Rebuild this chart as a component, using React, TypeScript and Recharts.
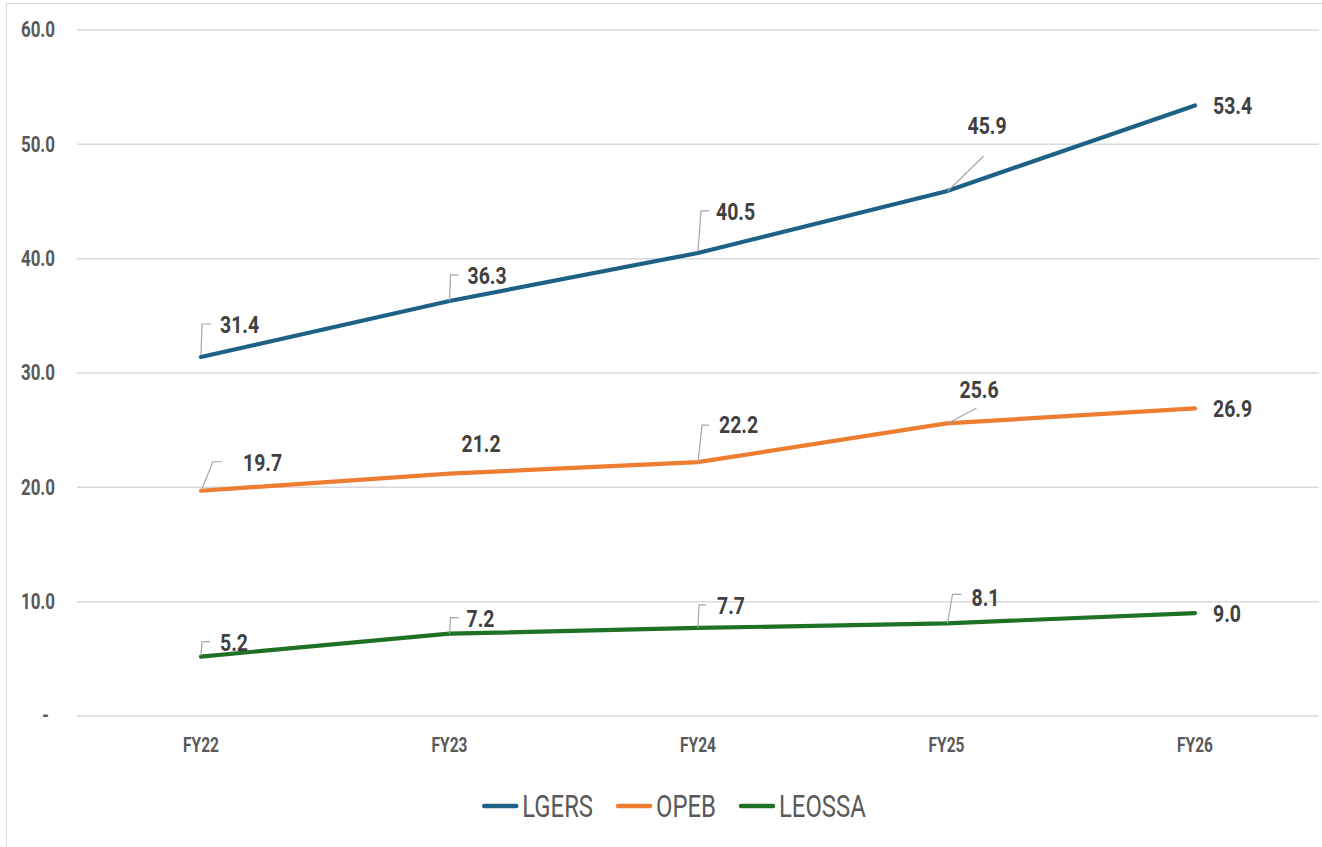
import React from 'react';
import { LineChart, Line, XAxis, YAxis, CartesianGrid, Legend } from 'recharts';

const categories = ['FY22', 'FY23', 'FY24', 'FY25', 'FY26'];
const lgers = [31.4, 36.3, 40.5, 45.9, 53.4];
const opeb = [19.7, 21.2, 22.2, 25.6, 26.9];
const leossa = [5.2, 7.2, 7.7, 8.1, 9.0];
const yTicks = [0, 10, 20, 30, 40, 50, 60];

const data = categories.map((fy, i) => ({
  fy,
  LGERS: lgers[i],
  OPEB: opeb[i],
  LEOSSA: leossa[i],
}));

const FONT = "Roboto, 'Liberation Sans', sans-serif";
const AXIS_GRAY = '#595959';
const LABEL_DARK = '#404040';
const LEADER = '#a6a6a6';

const series = [
  { key: 'LGERS', color: '#1d6187' },
  { key: 'OPEB', color: '#ed7d31' },
  { key: 'LEOSSA', color: '#1e7125' },
];

// horizontally condensed text, scaled about its anchor point
const NarrowText = ({
  x,
  y,
  anchor = 'start',
  sx = 0.8,
  size = 20,
  weight = 700,
  fill = AXIS_GRAY,
  children,
}: any) => (
  <text
    transform={`translate(${x} ${y}) scale(${sx} 1)`}
    x={0}
    y={0}
    textAnchor={anchor}
    dominantBaseline="central"
    fontFamily={FONT}
    fontWeight={weight}
    fontSize={size}
    fill={fill}
  >
    {children}
  </text>
);

type LabelPos = { dx: number; dy: number; leader?: [number, number][] };

// label placement relative to each point, with optional leader lines
const lgersLabels: LabelPos[] = [
  { dx: 19, dy: -32, leader: [[0, -2], [1, -33], [10, -33]] },
  { dx: 18, dy: -25, leader: [[0, 0], [1, -26], [9, -26]] },
  { dx: 18, dy: -41, leader: [[0, -2], [3, -42], [11, -42]] },
  { dx: 21, dy: -65, leader: [[1, 0], [37, -35]] },
  { dx: 18, dy: 0 },
];
const opebLabels: LabelPos[] = [
  { dx: 42, dy: -28, leader: [[0, 0], [12, -29], [21, -29]] },
  { dx: 12, dy: -30 },
  { dx: 21, dy: -37, leader: [[0, 0], [4, -37], [11, -37]] },
  { dx: 13, dy: -34, leader: [[1, 0], [30, -15]] },
  { dx: 18, dy: 0 },
];
const leossaLabels: LabelPos[] = [
  { dx: 19, dy: -14, leader: [[0, -1], [1, -15], [9, -15]] },
  { dx: 17, dy: -15, leader: [[0, 0], [1, -16], [9, -16]] },
  { dx: 19, dy: -22, leader: [[0, 0], [1, -23], [8, -23]] },
  { dx: 25, dy: -26, leader: [[1, 0], [6, -29], [15, -29]] },
  { dx: 18, dy: 1 },
];
const labelLayouts: Record<string, LabelPos[]> = {
  LGERS: lgersLabels,
  OPEB: opebLabels,
  LEOSSA: leossaLabels,
};

const makeLabel = (layout: LabelPos[]) => (props: any) => {
  const x = props.x ?? props.viewBox?.x;
  const y = props.y ?? props.viewBox?.y;
  const { value, index } = props;
  const l = layout[index];
  if (!l || x == null || y == null) return null;
  return (
    <g key={`lbl-${index}`}>
      {l.leader && (
        <polyline
          points={l.leader.map(([a, b]) => `${x + a},${y + b}`).join(' ')}
          fill="none"
          stroke={LEADER}
          strokeWidth={1.2}
        />
      )}
      <NarrowText x={x + l.dx} y={y + l.dy} size={24} sx={0.81} fill={LABEL_DARK}>
        {Number(value).toFixed(1)}
      </NarrowText>
    </g>
  );
};

const YTick = (props: any) => {
  const { x, y, payload } = props;
  const v = payload.value as number;
  return (
    <NarrowText x={v === 0 ? x - 6 : x} y={y} anchor="end" size={22} sx={0.77}>
      {v === 0 ? '-' : v.toFixed(1)}
    </NarrowText>
  );
};

const XTick = (props: any) => {
  const { x, y, payload } = props;
  return (
    <NarrowText x={x} y={y} anchor="middle" size={21} sx={0.74}>
      {payload.value}
    </NarrowText>
  );
};

// legend drawn in SVG so the condensed text keeps correct spacing
const LEGEND_SIZE = 31;
const LEGEND_SX = 0.77;
const measure = (() => {
  let ctx: CanvasRenderingContext2D | null = null;
  return (s: string) => {
    if (!ctx) ctx = document.createElement('canvas').getContext('2d');
    if (!ctx) return s.length * LEGEND_SIZE * 0.55;
    ctx.font = `400 ${LEGEND_SIZE}px Roboto`;
    return ctx.measureText(s).width;
  };
})();

const renderLegend = () => {
  const swatch = 36;
  const gapText = 4;
  const gapItem = 23;
  const widths = series.map((s) => measure(s.key) * LEGEND_SX);
  const total =
    widths.reduce((a, w) => a + swatch + gapText + w, 0) + gapItem * (series.length - 1);
  let cx = 1322 / 2 - total / 2;
  const cy = 21;
  return (
    <svg width={1322} height={42}>
      {series.map((s, i) => {
        const x0 = cx;
        cx += swatch + gapText + widths[i] + gapItem;
        return (
          <g key={s.key}>
            <line
              x1={x0 + 2}
              y1={cy}
              x2={x0 + swatch - 2}
              y2={cy}
              stroke={s.color}
              strokeWidth={4.5}
              strokeLinecap="round"
            />
            <NarrowText
              x={x0 + swatch + gapText}
              y={cy}
              size={LEGEND_SIZE}
              sx={LEGEND_SX}
              weight={400}
            >
              {s.key}
            </NarrowText>
          </g>
        );
      })}
    </svg>
  );
};

export default function App() {
  return (
    <div
      style={{
        position: 'absolute',
        left: 0,
        top: 0,
        width: 1322,
        height: 847,
        overflow: 'hidden',
        background: '#ffffff',
      }}
    >
      <div
        style={{
          position: 'absolute',
          left: 6,
          top: 3,
          width: 1400,
          height: 1000,
          border: '1.5px solid #d9d9d9',
        }}
      />
      <div style={{ position: 'absolute', left: 0, top: 0 }}>
        <LineChart
          width={1322}
          height={847}
          data={data}
          margin={{ top: 30, right: 3, bottom: 91, left: 7 }}
        >
          <CartesianGrid vertical={false} stroke="#d9d9d9" strokeWidth={1.5} />
          <XAxis
            dataKey="fy"
            axisLine={false}
            tickLine={false}
            tickSize={0}
            tickMargin={29}
            height={40}
            padding={{ left: 124, right: 124 }}
            tick={<XTick />}
          />
          <YAxis
            domain={[0, 60]}
            ticks={yTicks}
            interval={0}
            width={70}
            axisLine={false}
            tickLine={false}
            tickSize={0}
            tickMargin={22}
            tick={<YTick />}
          />
          <Legend
            verticalAlign="middle"
            align="center"
            content={renderLegend}
            wrapperStyle={{ top: 785, left: 13, width: 1322 }}
          />
          {series.map((s) => (
            <Line
              key={s.key}
              type="linear"
              dataKey={s.key}
              stroke={s.color}
              strokeWidth={4.2}
              strokeLinecap="round"
              dot={false}
              activeDot={false}
              isAnimationActive={false}
              label={makeLabel(labelLayouts[s.key])}
            />
          ))}
        </LineChart>
      </div>
    </div>
  );
}
